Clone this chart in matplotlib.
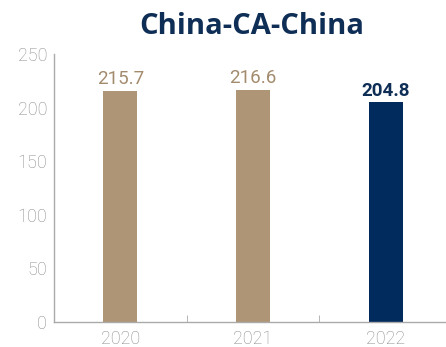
import numpy as np
import matplotlib.pyplot as plt

years = ["2020", "2021", "2022"]
values = [215.7, 216.6, 204.8]
bar_colors = ["#AD9575", "#AD9575", "#002B5C"]
label_colors = ["#A38B6D", "#A38B6D", "#0F2E55"]
label_weights = ["normal", "normal", "bold"]

fig = plt.figure(figsize=(4.46, 3.47), dpi=100)
ax = fig.add_axes([54 / 446, 1 - 322 / 347, 398 / 446, 268 / 347])

x = np.arange(len(years))
ax.bar(x, values, width=0.255, color=bar_colors)

for xi, v, c, w in zip(x, values, label_colors, label_weights):
    ax.text(xi, v + 2.5, f"{v:.1f}", ha="center", va="bottom", fontsize=13.5,
            color=c, fontweight=w, family="Roboto")

ax.set_xlim(-0.5, 2.5)
ax.set_ylim(0, 250)
ax.set_yticks([0, 50, 100, 150, 200, 250])
ax.set_xticks(x)
ax.set_xticklabels(years)
ax.set_xticks([0.5, 1.5], minor=True)

for s in ["top", "right"]:
    ax.spines[s].set_visible(False)
for s in ["left", "bottom"]:
    ax.spines[s].set_color("#AAAAAA")
    ax.spines[s].set_linewidth(1.0)

ax.tick_params(axis="y", length=0, pad=5, labelsize=13, labelcolor="#8C8C8C")
ax.tick_params(axis="x", which="major", length=0, pad=6, labelsize=13, labelcolor="#8C8C8C")
ax.tick_params(axis="x", which="minor", direction="in", length=5, color="#AAAAAA")
for lab in ax.get_xticklabels() + ax.get_yticklabels():
    lab.set_family("Roboto")
    lab.set_fontweight("light")

fig.text(252 / 446, 1 - 27 / 347, "China-CA-China", ha="center", va="center",
         fontsize=21, fontweight="bold", color="#0F2E55", family="Open Sans")

fig.savefig("out.png", dpi=100)
